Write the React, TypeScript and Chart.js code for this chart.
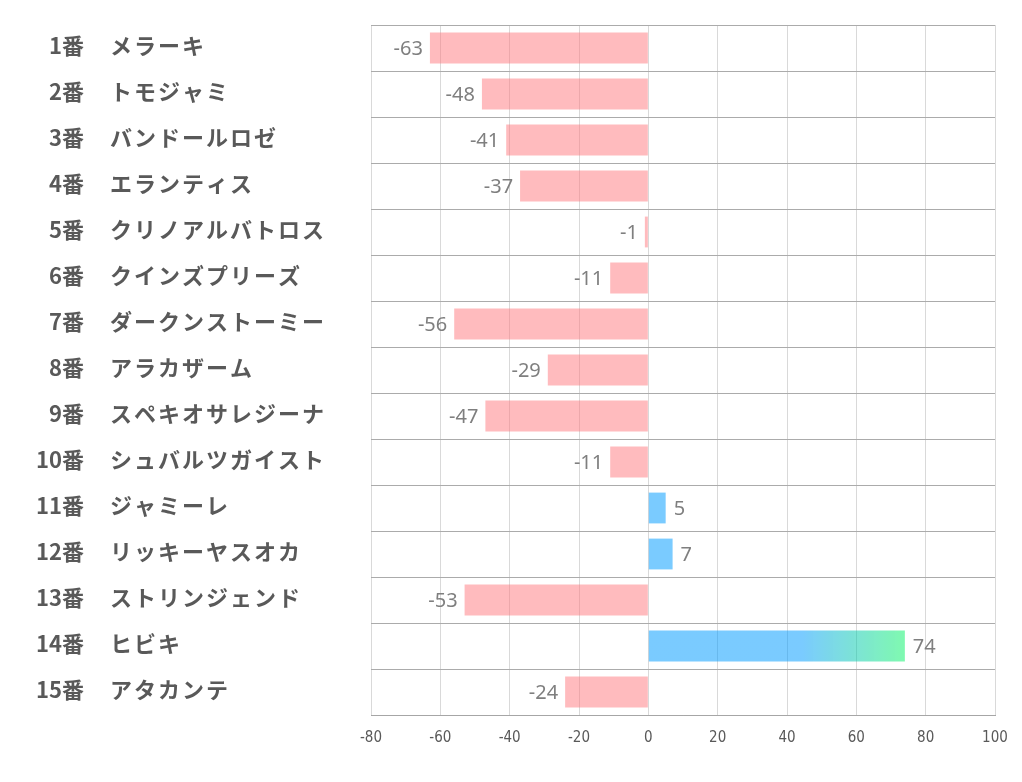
import React, { useEffect, useRef } from "react";
import { Chart, registerables } from "chart.js";

Chart.register(...registerables);

const numbers = ["1番", "2番", "3番", "4番", "5番", "6番", "7番", "8番", "9番", "10番", "11番", "12番", "13番", "14番", "15番"];
const names = ["メラーキ", "トモジャミ", "バンドールロゼ", "エランティス", "クリノアルバトロス", "クインズプリーズ", "ダークンストーミー", "アラカザーム", "スペキオサレジーナ", "シュバルツガイスト", "ジャミーレ", "リッキーヤスオカ", "ストリンジェンド", "ヒビキ", "アタカンテ"];
const values = [-63, -48, -41, -37, -1, -11, -56, -29, -47, -11, 5, 7, -53, 74, -24];
const xTicks = [-80, -60, -40, -20, 0, 20, 40, 60, 80, 100];

const PINK = "rgba(255,120,125,0.5)";
const BLUE = "rgba(0,155,255,0.52)";
const GREEN = "rgba(0,243,97,0.5)";

const labelPlugin = {
  id: "customLabels",
  afterDraw(chart: any) {
    const ctx = chart.ctx;
    const y = chart.scales.y;
    ctx.save();
    ctx.fillStyle = "#595959";
    ctx.font = "bold 22px 'Noto Sans CJK JP', 'Noto Sans', sans-serif";
    ctx.textBaseline = "middle";
    numbers.forEach((n, i) => {
      const py = y.getPixelForValue(i) - 2;
      ctx.textAlign = "right";
      (ctx as any).letterSpacing = "0px";
      ctx.fillText(n, 84, py);
      ctx.textAlign = "left";
      (ctx as any).letterSpacing = "2px";
      ctx.fillText(names[i], 110, py);
    });
    (ctx as any).letterSpacing = "0px";
    // data labels
    const meta = chart.getDatasetMeta(0);
    ctx.fillStyle = "#7F7F7F";
    ctx.font = "20px 'Noto Sans', sans-serif";
    meta.data.forEach((bar: any, i: number) => {
      const v = values[i];
      if (v < 0) {
        ctx.textAlign = "right";
        ctx.fillText(String(v), bar.x - 7, bar.y + 1);
      } else {
        ctx.textAlign = "left";
        ctx.fillText(String(v), bar.x + 8, bar.y + 1);
      }
    });
    ctx.restore();
  },
};

export default function App() {
  const ref = useRef<HTMLCanvasElement | null>(null);
  useEffect(() => {
    if (!ref.current) return;
    const chart = new Chart(ref.current, {
      type: "bar",
      data: {
        labels: numbers.map((n, i) => n + " " + names[i]),
        datasets: [
          {
            data: values,
            backgroundColor: (c: any) => {
              const v = values[c.dataIndex];
              if (v < 0) return PINK;
              if (v > 50) {
                const ch = c.chart;
                const xs = ch.scales.x;
                if (!xs) return BLUE;
                const x0 = xs.getPixelForValue(0);
                const x1 = xs.getPixelForValue(v);
                const g = ch.ctx.createLinearGradient(x0, 0, x1, 0);
                g.addColorStop(0, BLUE);
                g.addColorStop(0.6, BLUE);
                g.addColorStop(1, GREEN);
                return g;
              }
              return BLUE;
            },
            borderWidth: 0,
            categoryPercentage: 1,
            barPercentage: 0.67,
          },
        ],
      },
      options: {
        indexAxis: "y",
        responsive: false,
        animation: false,
        layout: { padding: { left: 371, top: 25, right: 27, bottom: 0 } },
        plugins: { legend: { display: false }, tooltip: { enabled: false } },
        scales: {
          x: {
            min: -80,
            max: 100,
            afterBuildTicks: (s: any) => {
              s.ticks = xTicks.map((v) => ({ value: v }));
            },
            afterFit: (s: any) => {
              s.height = 67;
            },
            grid: { color: "#D9D9D9", drawTicks: false },
            border: { color: "#A6A6A6" },
            ticks: {
              padding: 14,
              color: "#595959",
              font: { size: 15, family: "'Liberation Sans Narrow', 'DejaVu Sans Condensed', sans-serif" },
            },
          },
          y: {
            afterFit: (s: any) => {
              s.width = 0;
            },
            grid: { color: "#ABABAB", drawTicks: false, offset: true },
            border: { display: false },
            ticks: { display: false },
          },
        },
      },
      plugins: [labelPlugin],
    } as any);
    return () => chart.destroy();
  }, []);
  return (
    <canvas
      ref={ref}
      width={1022}
      height={782}
      style={{ position: "absolute", left: 0, top: 0, display: "block" }}
    />
  );
}
